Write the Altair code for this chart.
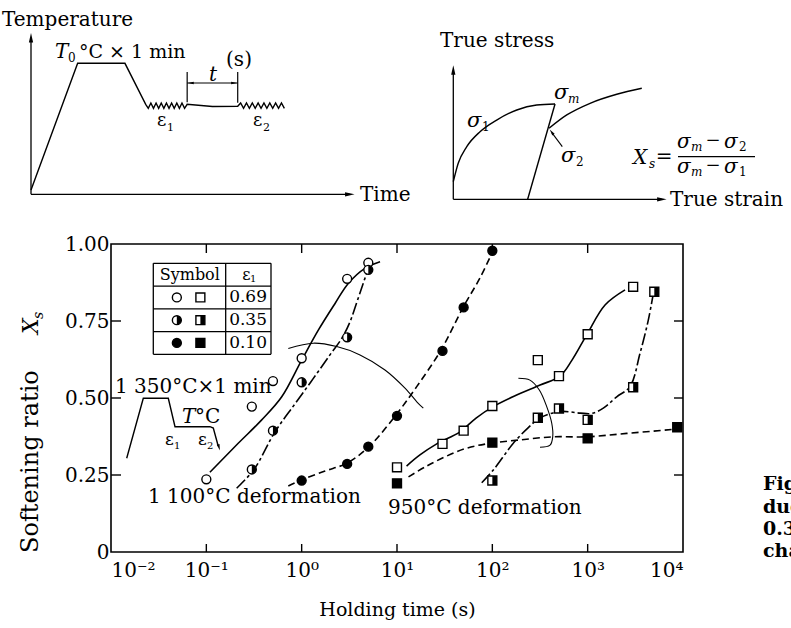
import altair as alt
import pandas as pd

FONT = "DejaVu Serif"
INK = "black"

# ---------------- measured softening ratio Xs vs holding time t (s) ----------------
# 1 100 °C deformation (circles); eps1 = 0.69 / 0.35 / 0.10
c_open_t = [0.1, 0.3, 0.5, 1, 3, 5]
c_open_xs = [0.236, 0.472, 0.555, 0.629, 0.887, 0.939]
c_half_t = [0.3, 0.5, 1, 3, 5]
c_half_xs = [0.268, 0.394, 0.551, 0.697, 0.916]
c_full_t = [1, 3, 5, 10, 30, 50, 100]
c_full_xs = [0.232, 0.286, 0.342, 0.442, 0.653, 0.794, 0.978]
# 950 °C deformation (squares)
s_open_t = [10, 30, 50, 100, 300, 500, 1000, 3000]
s_open_xs = [0.275, 0.351, 0.394, 0.474, 0.623, 0.571, 0.707, 0.861]
s_half_t = [100, 300, 500, 1000, 3000, 5000]
s_half_xs = [0.232, 0.436, 0.466, 0.429, 0.535, 0.845]
s_full_t = [10, 100, 1000, 8700]
s_full_xs = [0.223, 0.355, 0.369, 0.405]

# ---------------- hand-drawn trend curves ----------------
cv_c_open_t = [0.109, 0.216, 0.381, 0.618, 1.0, 1.50, 2.24, 3.08, 4.61, 6.64]
cv_c_open_xs = [0.259, 0.353, 0.429, 0.504, 0.623, 0.721, 0.807, 0.872, 0.921, 0.942]
cv_c_half_t = [0.208, 0.316, 0.525, 0.851, 1.315, 1.98, 2.65, 3.21, 3.80, 4.40, 5.0]
cv_c_half_xs = [0.207, 0.268, 0.390, 0.481, 0.562, 0.640, 0.695, 0.747, 0.812, 0.870, 0.922]
cv_c_full_t = [0.724, 1.0, 1.758, 2.965, 5.08, 9.77, 16.1, 29.0, 49.7, 74.3, 101.6]
cv_c_full_xs = [0.214, 0.234, 0.263, 0.288, 0.342, 0.445, 0.537, 0.656, 0.796, 0.890, 0.978]
cv_s_open_t = [12.6, 17.4, 26.1, 45.8, 67.5, 102.3, 173, 317, 513, 685, 977, 1521, 2466]
cv_s_open_xs = [0.279, 0.315, 0.351, 0.390, 0.435, 0.472, 0.507, 0.542, 0.571, 0.623, 0.705, 0.802, 0.851]
cv_s_half_t = [77.4, 102.3, 166, 237, 316, 513, 832, 1102, 1459, 2018, 2780, 3540, 4325, 4887]
cv_s_half_xs = [0.225, 0.266, 0.353, 0.403, 0.435, 0.456, 0.451, 0.450, 0.467, 0.504, 0.537, 0.645, 0.753, 0.840]
cv_s_full_t = [13.2, 19.7, 31.9, 53.8, 94.6, 195, 437, 977, 2570, 7907]
cv_s_full_xs = [0.244, 0.276, 0.309, 0.337, 0.353, 0.364, 0.374, 0.374, 0.385, 0.398]
# bracketing arcs grouping the strain levels
arc_a_t = [0.724, 1.324, 2.333, 4.093, 7.482, 12.13, 16.22, 18.88]
arc_a_xs = [0.661, 0.678, 0.667, 0.640, 0.591, 0.532, 0.487, 0.467]
arc_b_t = [187.6, 248, 311, 372, 420, 430, 403, 316]
arc_b_xs = [0.564, 0.558, 0.526, 0.472, 0.418, 0.374, 0.347, 0.340]

# axis ticks and labels
decades = [0.01, 0.1, 1, 10, 100, 1000, 10000]
decade_labels = ["10\u207b\u00b2", "10\u207b\u00b9", "10\u2070", "10\u00b9", "10\u00b2", "10\u00b3", "10\u2074"]
inner_x_ticks = [0.1, 1, 10, 100, 1000]
y_values = [0, 0.25, 0.5, 0.75, 1.0]
inner_y_ticks = [0.25, 0.5, 0.75]

# legend table
legend_eps = ["0.69", "0.35", "0.10"]

# ---------------- schematic: heat treatment (time, temperature in arbitrary units) ----------------
heat_time = [0, 14.4, 29.0, 35.4,
             36.2, 37.0, 37.8, 38.6, 39.4, 40.2, 41.0, 41.8, 42.6, 43.4, 44.2, 45.0, 45.8, 46.6, 47.4, 48.2,
             56.0, 63.8,
             64.7, 65.6, 66.5, 67.4, 68.3, 69.2, 70.1, 71.0, 71.9, 72.8, 73.7, 74.6, 75.5, 76.4, 77.3, 78.2]
heat_temp = [2.7, 81.2, 81.2, 55.8,
             53.3, 56.6, 53.3, 56.6, 53.3, 56.6, 53.3, 56.6, 53.3, 56.6, 53.3, 56.6, 53.3, 56.6, 53.3, 55.8,
             54.4, 54.6,
             56.6, 53.3, 56.6, 53.3, 56.6, 53.3, 56.6, 53.3, 56.6, 53.3, 56.6, 53.3, 56.6, 53.3, 56.6, 53.3]
hold_marks = [48.2, 63.8]

# ---------------- schematic: stress-strain (arbitrary units) ----------------
flow1_strain = [0, 2.3, 6.3, 12.5, 20.3, 29.7, 39.0, 47.6]
flow1_stress = [13.1, 26.8, 39.2, 50.3, 59.0, 66.5, 70.2, 71.0]
unload_strain = [47.6, 34.8]
unload_stress = [71.0, 0]
flow2_strain = [44.8, 53.1, 64.0, 76.5, 88.2]
flow2_stress = [52.9, 62.8, 71.5, 78.2, 82.7]

# ---------------- inset schedule: 1 350 °C x 1 min -> T °C ----------------
inset_time = [0, 16.6, 41.6, 48.3, 83.3, 86.6, 91.5]
inset_temp = [11.7, 71.7, 71.7, 43.3, 43.3, 42.0, 24.0]

# ---------------- layout ----------------
OX, OY = 111, 244          # plot-area origin on the page
W, H = 572, 308            # plot-area size
ONE = pd.DataFrame({"k": [0]})

HALF_CIRCLE = "M0,-1A1,1,0,0,1,0,1Z"
HALF_SQUARE = "M0,-1L1,-1L1,1L0,1Z"
ARROW_UP = "M0,-1L0.45,1L-0.45,1Z"
ARROW_RIGHT = "M1,0L-1,0.45L-1,-0.45Z"
ARROW_LEFT = "M-1,0L1,0.45L1,-0.45Z"
ARROW_DOWN = "M0,1L0.45,-1L-0.45,-1Z"


def label(s, x, y, size=20, italic=False, bold=False, align="left", baseline="alphabetic", angle=0):
    kw = dict(text=s, font=FONT, fontSize=size, align=align, baseline=baseline, color=INK,
              fontStyle="italic" if italic else "normal",
              fontWeight="bold" if bold else "normal")
    if angle:
        kw["angle"] = angle
    return alt.Chart(ONE).mark_text(**kw).encode(x=alt.value(x - OX), y=alt.value(y - OY))


# ================= main plot =================
label_expr = "[" + ",".join("'%s'" % s for s in decade_labels) + "][round(log(datum.value)/LN10)+2]"
t_scale = alt.Scale(type="log", domain=[0.01, 10000], nice=False)
xs_scale = alt.Scale(domain=[0, 1], nice=False)
X = alt.X("t:Q", scale=t_scale,
          axis=alt.Axis(values=decades, labelExpr=label_expr, ticks=False, domain=False, grid=False,
                        labelFont=FONT, labelFontSize=20, labelColor=INK, labelPadding=8,
                        labelBaseline="top",
                        title="Holding time (s)", titleFont=FONT, titleFontSize=19,
                        titleFontWeight="normal", titleColor=INK, titlePadding=20))
Y = alt.Y("xs:Q", scale=xs_scale,
          axis=alt.Axis(values=y_values,
                        labelExpr="datum.value == 0 ? '0' : format(datum.value, '.2f')",
                        ticks=False, domain=False, grid=False, labelFont=FONT, labelFontSize=20,
                        labelColor=INK, labelPadding=2, title=None))


def pts(t, xs):
    return pd.DataFrame({"t": t, "xs": xs})


def curve_df(items):
    rows = []
    for name, t, xs in items:
        for i, (a, b) in enumerate(zip(t, xs)):
            rows.append({"curve": name, "i": i, "t": a, "xs": b})
    return pd.DataFrame(rows)


def curves(items, **mk):
    return alt.Chart(curve_df(items)).mark_line(color=INK, interpolate="catmull-rom", **mk).encode(
        x=X, y=Y, detail="curve:N", order="i:Q")


solid = curves([("c_open", cv_c_open_t, cv_c_open_xs), ("s_open", cv_s_open_t, cv_s_open_xs)],
               strokeWidth=1.6)
dashdot = curves([("c_half", cv_c_half_t, cv_c_half_xs), ("s_half", cv_s_half_t, cv_s_half_xs)],
                 strokeWidth=1.6, strokeDash=[12, 3, 3, 3])
dashed = curves([("c_full", cv_c_full_t, cv_c_full_xs), ("s_full", cv_s_full_t, cv_s_full_xs)],
                strokeWidth=1.6, strokeDash=[7, 4])
arcs = curves([("arc_a", arc_a_t, arc_a_xs), ("arc_b", arc_b_t, arc_b_xs)], strokeWidth=1.1)

MS = 80


def marker(df, shape, fill):
    return alt.Chart(df).mark_point(shape=shape, size=MS, filled=True, fill=fill, stroke=INK,
                                    strokeWidth=1.4, opacity=1).encode(x=X, y=Y)


def half(df, shape):
    return alt.Chart(df).mark_point(shape=shape, size=MS, filled=True, fill=INK, strokeWidth=0,
                                    opacity=1).encode(x=X, y=Y)


circ_o, circ_h, circ_f = pts(c_open_t, c_open_xs), pts(c_half_t, c_half_xs), pts(c_full_t, c_full_xs)
sq_o, sq_h, sq_f = pts(s_open_t, s_open_xs), pts(s_half_t, s_half_xs), pts(s_full_t, s_full_xs)

markers = [
    marker(circ_o, "circle", "white"),
    marker(circ_h, "circle", "white"), half(circ_h, HALF_CIRCLE),
    marker(circ_f, "circle", INK),
    marker(sq_o, "square", "white"),
    marker(sq_h, "square", "white"), half(sq_h, HALF_SQUARE),
    marker(sq_f, "square", INK),
]

xt = pd.DataFrame({"t": inner_x_ticks})
yt = pd.DataFrame({"xs": inner_y_ticks})
tick_w = 1.4
frame_ticks = [
    alt.Chart(xt).mark_rule(color=INK, strokeWidth=tick_w).encode(x=X, y=alt.value(H), y2=alt.value(H - 8)),
    alt.Chart(xt).mark_rule(color=INK, strokeWidth=tick_w).encode(x=X, y=alt.value(0), y2=alt.value(9)),
    alt.Chart(yt).mark_rule(color=INK, strokeWidth=tick_w).encode(y=Y, x=alt.value(0), x2=alt.value(10)),
    alt.Chart(yt).mark_rule(color=INK, strokeWidth=tick_w).encode(y=Y, x=alt.value(W), x2=alt.value(W - 9)),
]

main = alt.layer(solid, dashdot, dashed, arcs, *frame_ticks, *markers)

# ================= legend table =================
lx = alt.Scale(domain=[0, 1], range=[153.3 - OX, 271 - OX], nice=False)
ly = alt.Scale(domain=[0, 4], range=[263.3 - OY, 354.3 - OY], nice=False)
LX = lambda f: alt.X(f, scale=lx, axis=None)
LY = lambda f: alt.Y(f, scale=ly, axis=None)

grid_df = pd.DataFrame({
    "gx": [0, 0, 0, 0, 0, 0.615],
    "gy": [0, 1, 2, 3, 4, 0],
    "gx2": [1, 1, 1, 1, 1, 0.615],
    "gy2": [0, 1, 2, 3, 4, 4],
})
border = pd.DataFrame({"gx": [0, 1], "gy": [0, 0], "gx2": [0, 1], "gy2": [4, 4]})
leg_rows = pd.DataFrame({"row": [1.5, 2.5, 3.5], "eps": legend_eps,
                         "cx": [0.2] * 3, "sx": [0.4] * 3, "tx": [0.805] * 3})
head = pd.DataFrame({"hx": [0.31], "hy": [0.5], "ex": [0.79]})


def leg_mark(row_i, col, shape, fill):
    return alt.Chart(leg_rows.iloc[[row_i]]).mark_point(
        shape=shape, size=MS, filled=True, fill=fill, stroke=INK, strokeWidth=1.4, opacity=1
    ).encode(x=LX(col + ":Q"), y=LY("row:Q"))


def leg_half(row_i, col, shape):
    return alt.Chart(leg_rows.iloc[[row_i]]).mark_point(
        shape=shape, size=MS, filled=True, fill=INK, strokeWidth=0, opacity=1
    ).encode(x=LX(col + ":Q"), y=LY("row:Q"))


legend = alt.layer(
    alt.Chart(grid_df).mark_rule(color=INK, strokeWidth=1.3).encode(
        x=LX("gx:Q"), y=LY("gy:Q"), x2="gx2:Q", y2="gy2:Q"),
    alt.Chart(border).mark_rule(color=INK, strokeWidth=1.3).encode(
        x=LX("gx:Q"), y=LY("gy:Q"), x2="gx2:Q", y2="gy2:Q"),
    alt.Chart(head).mark_text(text="Symbol", font=FONT, fontSize=16, color=INK, baseline="middle").encode(
        x=LX("hx:Q"), y=LY("hy:Q")),
    alt.Chart(head).mark_text(text="\u03b5", font=FONT, fontSize=16, color=INK, baseline="middle").encode(
        x=LX("ex:Q"), y=LY("hy:Q")),
    alt.Chart(head).mark_text(text="1", font=FONT, fontSize=10, color=INK, baseline="middle",
                              dx=7, dy=4).encode(x=LX("ex:Q"), y=LY("hy:Q")),
    alt.Chart(leg_rows).mark_text(font=FONT, fontSize=17, color=INK, baseline="middle").encode(
        x=LX("tx:Q"), y=LY("row:Q"), text="eps:N"),
    leg_mark(0, "cx", "circle", "white"), leg_mark(0, "sx", "square", "white"),
    leg_mark(1, "cx", "circle", "white"), leg_half(1, "cx", HALF_CIRCLE),
    leg_mark(1, "sx", "square", "white"), leg_half(1, "sx", HALF_SQUARE),
    leg_mark(2, "cx", "circle", INK), leg_mark(2, "sx", "square", INK),
)

# ================= heat-treatment schematic =================
hx = alt.Scale(domain=[0, 100], range=[31 - OX, 355 - OX], nice=False)
hy = alt.Scale(domain=[0, 100], range=[194.3 - OY, 33 - OY], nice=False)
HX = lambda f: alt.X(f, scale=hx, axis=None)
HY = lambda f: alt.Y(f, scale=hy, axis=None)

heat_df = pd.DataFrame({"u": heat_time, "v": heat_temp, "i": range(len(heat_time))})
heat_axes = pd.DataFrame({"u": [0, 0], "v": [0, 0], "u2": [0, 98.4], "v2": [97, 0]})
heat_heads = pd.DataFrame({"u": [0], "v": [97]})
heat_headr = pd.DataFrame({"u": [98.4], "v": [0]})
marks_df = pd.DataFrame({"u": hold_marks, "v": [57.0, 56.8], "v2": [75.8, 75.8]})
span_df = pd.DataFrame({"u": [hold_marks[0]], "u2": [hold_marks[1]], "v": [69.0]})
span_l = pd.DataFrame({"u": [hold_marks[0] + 1.1], "v": [69.0]})
span_r = pd.DataFrame({"u": [hold_marks[1] - 1.1], "v": [69.0]})

heat = alt.layer(
    alt.Chart(heat_axes).mark_rule(color=INK, strokeWidth=1.3).encode(
        x=HX("u:Q"), y=HY("v:Q"), x2="u2:Q", y2="v2:Q"),
    alt.Chart(heat_heads).mark_point(shape=ARROW_UP, size=90, filled=True, fill=INK, strokeWidth=0,
                                     opacity=1).encode(x=HX("u:Q"), y=HY("v:Q")),
    alt.Chart(heat_headr).mark_point(shape=ARROW_RIGHT, size=90, filled=True, fill=INK, strokeWidth=0,
                                     opacity=1).encode(x=HX("u:Q"), y=HY("v:Q")),
    alt.Chart(heat_df).mark_line(color=INK, strokeWidth=1.4).encode(
        x=HX("u:Q"), y=HY("v:Q"), order="i:Q"),
    alt.Chart(marks_df).mark_rule(color=INK, strokeWidth=1.2).encode(
        x=HX("u:Q"), y=HY("v:Q"), y2="v2:Q"),
    alt.Chart(span_df).mark_rule(color=INK, strokeWidth=1.0).encode(
        x=HX("u:Q"), x2="u2:Q", y=HY("v:Q")),
    alt.Chart(span_l).mark_point(shape=ARROW_LEFT, size=36, filled=True, fill=INK, strokeWidth=0,
                                 opacity=1).encode(x=HX("u:Q"), y=HY("v:Q")),
    alt.Chart(span_r).mark_point(shape=ARROW_RIGHT, size=36, filled=True, fill=INK, strokeWidth=0,
                                 opacity=1).encode(x=HX("u:Q"), y=HY("v:Q")),
)

# ================= stress-strain schematic =================
sx = alt.Scale(domain=[0, 100], range=[453.3 - OX, 667 - OX], nice=False)
sy = alt.Scale(domain=[0, 100], range=[199.3 - OY, 65 - OY], nice=False)
SX = lambda f: alt.X(f, scale=sx, axis=None)
SY = lambda f: alt.Y(f, scale=sy, axis=None)


def ss_line(name, u, v, interp):
    df = pd.DataFrame({"u": u, "v": v, "i": range(len(u))})
    return alt.Chart(df).mark_line(color=INK, strokeWidth=1.4, interpolate=interp).encode(
        x=SX("u:Q"), y=SY("v:Q"), order="i:Q")


ss_axes = pd.DataFrame({"u": [0, 0], "v": [0, 0], "u2": [0, 97.6], "v2": [96.3, 0]})
ss_head_up = pd.DataFrame({"u": [0], "v": [96.3]})
ss_head_r = pd.DataFrame({"u": [97.6], "v": [0]})
pointer = pd.DataFrame({"u": [51.0], "v": [39.2], "u2": [46.2], "v2": [49.5]})
pointer_head = pd.DataFrame({"u": [46.0], "v": [50.0]})

stress = alt.layer(
    alt.Chart(ss_axes).mark_rule(color=INK, strokeWidth=1.3).encode(
        x=SX("u:Q"), y=SY("v:Q"), x2="u2:Q", y2="v2:Q"),
    alt.Chart(ss_head_up).mark_point(shape=ARROW_UP, size=90, filled=True, fill=INK, strokeWidth=0,
                                     opacity=1).encode(x=SX("u:Q"), y=SY("v:Q")),
    alt.Chart(ss_head_r).mark_point(shape=ARROW_RIGHT, size=90, filled=True, fill=INK, strokeWidth=0,
                                    opacity=1).encode(x=SX("u:Q"), y=SY("v:Q")),
    ss_line("flow1", flow1_strain, flow1_stress, "monotone"),
    ss_line("unload", unload_strain, unload_stress, "linear"),
    ss_line("flow2", flow2_strain, flow2_stress, "monotone"),
    alt.Chart(pointer).mark_rule(color=INK, strokeWidth=1.1).encode(
        x=SX("u:Q"), y=SY("v:Q"), x2="u2:Q", y2="v2:Q"),
    alt.Chart(pointer_head).mark_point(shape=ARROW_UP, size=40, filled=True, fill=INK, strokeWidth=0,
                                       opacity=1, angle=324).encode(x=SX("u:Q"), y=SY("v:Q")),
)

# ================= inset schedule inside the plot =================
ix = alt.Scale(domain=[0, 100], range=[126.7 - OX, 226.7 - OX], nice=False)
iy = alt.Scale(domain=[0, 100], range=[470 - OY, 370 - OY], nice=False)
inset_df = pd.DataFrame({"u": inset_time, "v": inset_temp, "i": range(len(inset_time))})
inset_head = pd.DataFrame({"u": [92.3], "v": [22.5]})
inset = alt.layer(
    alt.Chart(inset_df).mark_line(color=INK, strokeWidth=1.4).encode(
        x=alt.X("u:Q", scale=ix, axis=None), y=alt.Y("v:Q", scale=iy, axis=None), order="i:Q"),
    alt.Chart(inset_head).mark_point(shape=ARROW_DOWN, size=40, filled=True, fill=INK, strokeWidth=0,
                                     opacity=1, angle=344).encode(
        x=alt.X("u:Q", scale=ix, axis=None), y=alt.Y("v:Q", scale=iy, axis=None)),
)

# ================= text =================
texts = [
    # heat-treatment schematic
    label("Temperature", 2, 26),
    label("T", 55, 58, italic=True), label("0", 68, 62, size=12),
    label("\u00b0C \u00d7 1 min", 79, 58, size=19),
    label("t", 213, 81, italic=True, align="center"),
    label("(s)", 239, 66, align="center"),
    label("\u03b5", 157, 126, size=18), label("1", 167, 131, size=11),
    label("\u03b5", 253, 126, size=18), label("2", 263, 131, size=11),
    label("Time", 360, 201),
    # stress-strain schematic
    label("True stress", 440, 47),
    label("True strain", 670, 206),
    label("\u03c3", 467, 127, size=21, italic=True), label("1", 482, 131, size=12),
    label("\u03c3", 554, 99, size=21, italic=True), label("m", 568, 103, size=12, italic=True),
    label("\u03c3", 561, 162, size=21, italic=True), label("2", 576, 166, size=12),
    label("X", 633, 164, italic=True), label("s", 649, 168, size=12, italic=True),
    label("=", 664, 163, align="center"),
    label("\u03c3", 677, 148, size=20, italic=True), label("m", 691, 151, size=12, italic=True),
    label("\u2212", 713, 146, size=18, align="center"),
    label("\u03c3", 724, 148, size=20, italic=True), label("2", 739, 151, size=12),
    label("\u03c3", 677, 173, size=20, italic=True), label("m", 691, 176, size=12, italic=True),
    label("\u2212", 713, 171, size=18, align="center"),
    label("\u03c3", 724, 173, size=20, italic=True), label("1", 739, 176, size=12),
    alt.Chart(ONE).mark_rule(color=INK, strokeWidth=1.2).encode(
        x=alt.value(678 - OX), x2=alt.value(755 - OX), y=alt.value(156.7 - OY)),
    # plot annotations
    label("1 100\u00b0C deformation", 148, 503),
    label("950\u00b0C deformation", 388, 514),
    label("1 350\u00b0C\u00d71 min", 115, 393),
    label("T", 182, 423, italic=True), label("\u00b0C", 195, 423),
    label("\u03b5", 165, 445, size=17), label("1", 174, 449, size=10),
    label("\u03b5", 198, 445, size=17), label("2", 207, 449, size=10),
    # y-axis title
    label("Softening ratio", 38, 553, size=24, angle=270),
    label("X", 38, 334, size=22, italic=True, angle=270),
    label("s", 43, 319, size=14, italic=True, angle=270),
    # caption text running off the right edge
    label("Fig.", 763, 490, size=19, bold=True),
    label("due", 763, 513, size=19, bold=True),
    label("0.35", 763, 535, size=19, bold=True),
    label("cha", 763, 557, size=19, bold=True),
]

chart = alt.layer(main, legend, heat, stress, inset, *texts).resolve_scale(
    x="independent", y="independent"
).properties(
    width=W, height=H,
    autosize=alt.AutoSizeParams(type="none"),
    padding={"left": OX, "top": OY, "right": 791 - OX - W, "bottom": 628 - OY - H},
    background="white",
).configure_view(stroke=INK, strokeWidth=1.6)

chart.save("out.html", embed_options={"renderer": "svg", "actions": False})
